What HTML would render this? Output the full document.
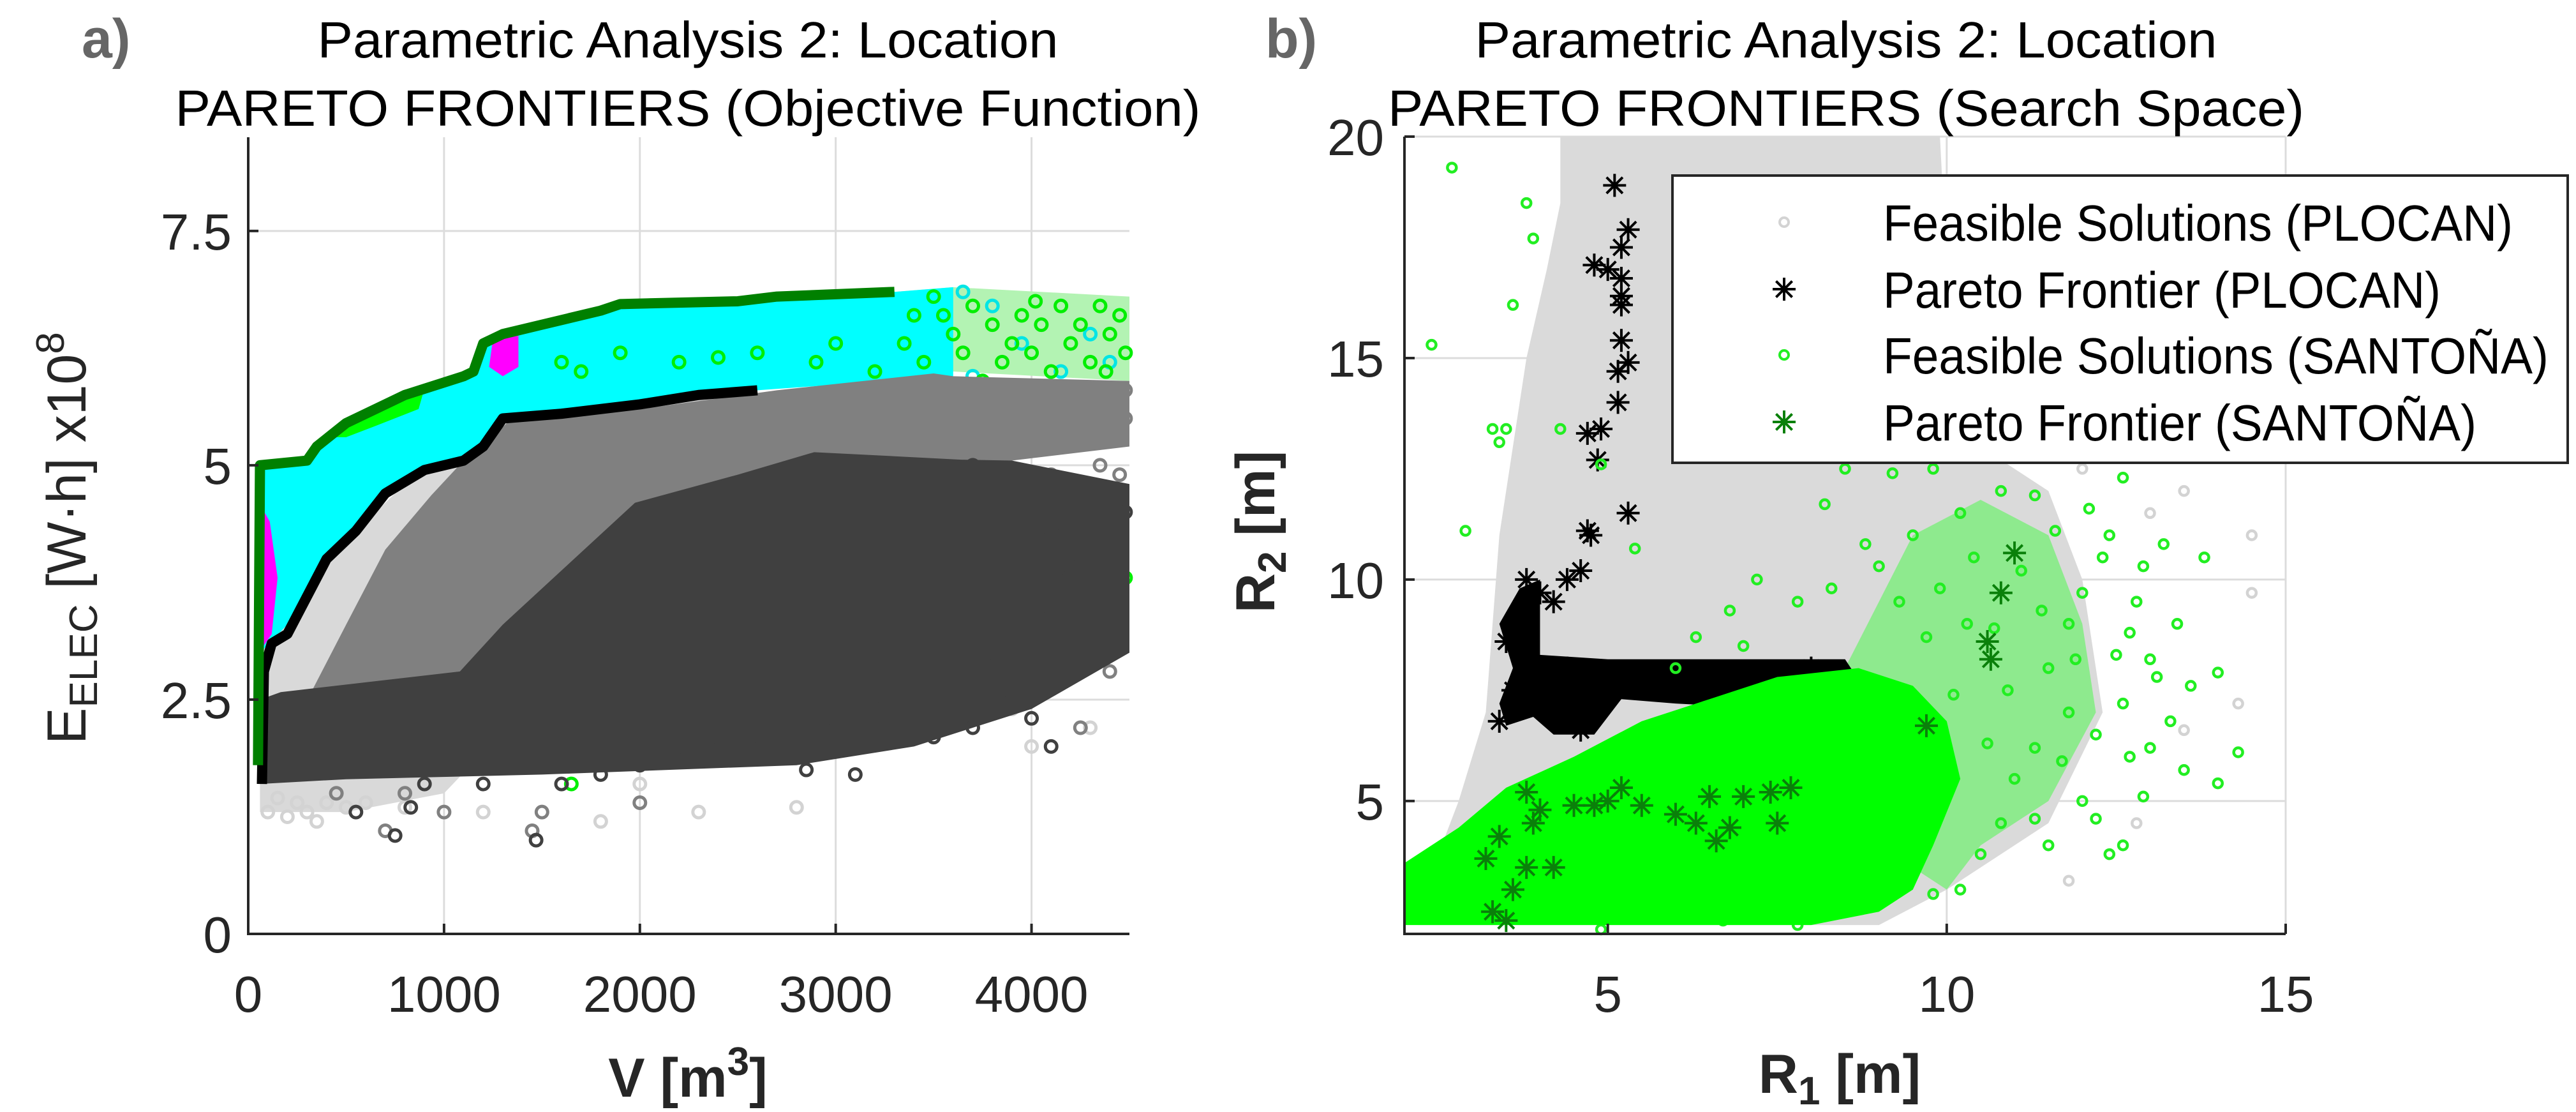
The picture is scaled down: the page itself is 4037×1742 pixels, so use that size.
<!DOCTYPE html>
<html><head><meta charset="utf-8"><style>
html,body{margin:0;padding:0;background:#fff;}
svg{display:block;font-family:"Liberation Sans",Arial,sans-serif;}
</style></head><body>
<svg id="fig" width="4037" height="1742" viewBox="0 0 4037 1742" xmlns="http://www.w3.org/2000/svg">
<rect width="4037" height="1742" fill="#fff"/>
<g id="left"></g>
<g id="right"></g>
</svg>
<script>
// ---------- LEFT CHART DATA (V [m3], E x1e8) ----------
const leftXTicks=[0,1000,2000,3000,4000];
const leftYTicks=[0,2.5,5,7.5];
const leftYTickLabels=["0","2.5","5","7.5"];
const greenFrontier=[[50,1.8],[60,5.0],[300,5.05],[350,5.2],[500,5.45],[800,5.75],[1100,5.95],[1150,6.0],[1200,6.3],[1300,6.4],[1500,6.5],[1800,6.65],[1900,6.72],[2500,6.75],[2700,6.8],[3300,6.85]];
const blackFrontier=[[70,1.6],[80,2.8],[120,3.1],[200,3.2],[250,3.4],[400,4.0],[550,4.3],[700,4.7],[900,4.95],[1100,5.05],[1200,5.2],[1300,5.5],[1600,5.55],[2000,5.65],[2300,5.75],[2600,5.8]];
const cyanRegionTail=[[3600,6.9],[3600,5.95],[2600,5.8]];
const greenSparseRegion=[[3300,6.0],[3300,6.85],[3600,6.9],[4500,6.8],[4500,5.9],[3600,6.0]];
const lightGrayRegion=[[60,1.3],[60,3.0],[200,3.3],[500,4.2],[800,4.8],[1100,5.1],[1300,5.4],[2600,5.8],[2600,5.0],[1000,1.5],[500,1.3]];
const midGrayRegion=[[312,2.54],[500,3.3],[700,4.1],[935,4.68],[1100,5.05],[1250,5.3],[1320,5.45],[2000,5.6],[2700,5.8],[3500,5.98],[3600,5.95],[4500,5.9],[4500,5.2],[3700,5.0],[3000,4.0],[2000,2.6],[1000,2.6]];
const darkGrayRegion=[[60,1.6],[60,2.5],[166,2.58],[1081,2.8],[1300,3.3],[1975,4.6],[2500,4.9],[2890,5.14],[3640,5.06],[3900,5.05],[4500,4.8],[4500,3.0],[4000,2.4],[3400,2.0],[2800,1.8],[1500,1.7],[500,1.65]];
const lightGreenBlob=[[400,5.3],[550,5.45],[700,5.65],[900,5.82],[870,5.6],[650,5.42],[500,5.3]];
const magentaBlob1=[[55,3.0],[55,4.6],[110,4.4],[150,3.8],[120,3.2]];
const magentaBlob2=[[1230,6.05],[1250,6.35],[1380,6.38],[1380,6.05],[1300,5.95]];
const greenL=[[3400,6.6],[3500,6.8],[3600,6.4],[3650,6.2],[3700,6.7],[3800,6.5],[3850,6.1],[3900,6.3],[3950,6.6],[4000,6.2],[4050,6.5],[4100,6.0],[4150,6.7],[4200,6.3],[4250,6.5],[4300,6.1],[4350,6.7],[4400,6.4],[4450,6.6],[4480,6.2],[3750,5.9],[4100,5.7],[4300,5.8],[3900,4.6],[4200,4.5],[4100,4.2],[4450,4.0],[4350,3.6],[4000,3.3],[4250,3.0],[4000,2.5],[4480,3.8],[1600,6.1],[1700,6.0],[1900,6.2],[2200,6.1],[2400,6.15],[2600,6.2],[2900,6.1],[3000,6.3],[3200,6.0],[1650,1.6],[3350,6.3],[3450,6.1],[3550,6.6],[4020,6.75],[4380,6.0]];
const cyanL=[[3650,6.85],[3800,6.7],[3950,6.3],[4150,6.0],[4300,6.4],[4400,6.1],[3700,5.95]];
const grayL=[[3600,5.8],[3800,5.6],[4000,5.5],[4200,5.7],[4400,5.6],[4480,5.8],[3900,5.2],[4300,5.3],[4450,4.9],[4100,4.9],[3950,3.2],[4200,2.9],[4400,2.8],[3300,2.2],[3500,2.3],[3700,2.5],[4250,2.2],[800,1.5],[700,1.1],[1000,1.3],[1450,1.1],[2000,1.4],[1500,1.3],[450,1.5],[4480,5.5],[4350,5.0]];
const lightL=[[100,1.3],[200,1.25],[300,1.3],[400,1.4],[500,1.35],[600,1.4],[800,1.35],[1200,1.3],[1800,1.2],[2300,1.3],[2800,1.35],[4000,2.0],[4300,2.2],[4450,3.5],[3900,2.4],[2000,1.6],[150,1.45],[350,1.2],[250,1.4]];
const darkL=[[3700,5.0],[3800,4.8],[3900,4.5],[4000,4.7],[4100,4.3],[4200,4.6],[4300,4.2],[4400,4.7],[4480,4.5],[3950,4.0],[4150,3.8],[4300,3.9],[4450,3.3],[4350,3.2],[4050,3.5],[4250,3.4],[3800,3.0],[3600,2.7],[3400,2.6],[3200,2.4],[3000,2.2],[2800,1.9],[2600,2.0],[2400,2.1],[2200,2.0],[2000,1.8],[1800,1.7],[1600,1.6],[1200,1.6],[900,1.6],[3500,2.1],[3700,2.2],[4100,2.0],[4000,2.3],[3850,2.6],[4450,4.1],[4200,4.05],[2350,1.95],[3100,1.7],[2850,1.75],[830,1.35],[550,1.3],[750,1.05],[1470,1.0]];

// ---------- RIGHT CHART DATA (R1 [m], R2 [m]) ----------
const rightXTicks=[5,10,15];
const rightYTicks=[5,10,15,20];
const grayRegionR=[[2.2,2.2],[2.3,3],[2.8,5],[3.2,7],[3.3,9],[3.4,11],[3.6,13],[3.8,15],[4.1,17],[4.3,18.5],[4.3,20],[9.9,20],[10,17],[10.5,13],[11.5,12],[12,10],[12.3,7],[11.5,4.5],[10,3],[9,2.2]];
const greenSparseRegionR=[[8.5,8],[9,9.5],[9.5,11],[10.5,11.8],[11.5,11],[12,9],[12.2,7],[11.5,5],[10.5,4],[10,3],[9.5,3.5]];
const greenDenseR=[[2,2.2],[2,3.6],[2.8,4.4],[3.5,5.3],[4.5,6],[5.5,6.8],[6.5,7.3],[7.5,7.8],[8.7,8],[9.5,7.6],[10,6.8],[10.2,5.5],[9.8,4],[9.5,3],[9,2.5],[8,2.2]];
const blackBlobR=[[3.5,6.7],[3.4,7.2],[3.6,8],[3.4,9],[3.7,9.8],[4.0,10],[4.0,8.3],[5,8.2],[6.5,8.2],[8.5,8.2],[8.8,7.5],[8.5,7.0],[6,7.2],[5.2,7.3],[4.8,6.5],[4.2,6.5],[3.9,6.9]];
const blackStarsR=[[5.1,18.9],[5.3,17.9],[5.2,17.5],[4.8,17.1],[5.0,17.0],[5.2,16.8],[5.2,16.4],[5.2,16.2],[5.2,15.4],[5.3,14.9],[5.15,14.7],[5.15,14.0],[4.7,13.3],[4.9,13.4],[4.85,12.7],[5.3,11.5],[4.75,11.0],[4.7,11.1],[4.4,10.0],[4.6,10.2],[4.2,9.5],[3.8,10.0],[4.0,9.7],[3.4,6.8],[3.6,7.5],[4.4,8.0],[5.5,7.9],[6.2,7.8],[7.2,7.8],[8.0,8.0],[8.6,7.6],[4.6,6.6],[3.5,8.6]];
const greenStarsR=[[3.3,2.5],[3.5,2.3],[3.6,3.0],[3.4,4.2],[3.8,3.5],[3.9,4.5],[3.8,5.2],[4.0,4.8],[4.5,4.9],[4.8,4.9],[5.0,5.0],[5.2,5.3],[5.5,4.9],[6.0,4.7],[6.3,4.5],[6.5,5.1],[6.6,4.1],[6.8,4.4],[7.0,5.1],[7.4,5.2],[7.7,5.3],[7.5,4.5],[9.7,6.7],[10.6,8.6],[10.65,8.2],[10.8,9.7],[11.0,10.6],[4.2,3.5],[3.2,3.7]];
const grayScatterR=[[13.5,12],[14.5,11],[14.5,9.7],[13,11.5],[12.8,4.5],[12,12.5],[11,13.5],[14.3,7.2],[13.5,6.6],[11.8,3.2]];
const greenScatterR=[[2.7,19.3],[2.4,15.3],[3.8,18.5],[3.9,17.7],[3.6,16.2],[2.9,11.1],[3.3,13.4],[3.5,13.4],[3.4,13.1],[4.3,13.4],[4.9,12.6],[5.4,10.7],[8.2,11.7],[8.5,12.5],[9.2,12.4],[9.5,11],[9.8,12.5],[10.2,11.5],[10.8,12],[11.3,11.9],[11.6,11.1],[12.1,11.6],[12.6,12.3],[12.3,10.5],[12.8,9.5],[13.2,10.8],[13.8,10.5],[11.8,9],[12.5,8.3],[13.1,7.8],[13.6,7.6],[14.0,7.9],[14.3,6.1],[14.0,5.4],[13.5,5.7],[13.0,6.2],[12.7,6.0],[12.2,6.5],[11.8,7.0],[11.3,6.2],[11.0,5.5],[10.8,4.5],[11.5,4.0],[12.4,3.8],[12.6,4.0],[10.5,3.8],[10.2,3.0],[9.8,2.9],[10.9,7.5],[11.5,8.0],[10.3,9.0],[9.3,9.5],[9.0,10.3],[8.3,9.8],[8.8,10.8],[7.8,9.5],[7.2,10.0],[6.8,9.3],[6.3,8.7],[6.0,8.0],[7.0,8.5],[9.7,8.7],[11.1,10.2],[12.0,9.7],[13.0,8.2],[12.0,5.0],[11.3,4.6],[9.1,3.5],[8.6,2.7],[7.8,2.2],[6.7,2.3],[5.8,2.4],[4.9,2.1],[10.4,10.5],[9.9,9.8],[10.7,8.9],[11.4,9.3],[10.1,7.4],[11.7,5.9],[12.9,5.1],[10.6,6.3],[12.4,11.0],[12.9,10.3],[13.4,9.0],[12.6,7.2],[13.3,6.8],[12.2,4.6],[11.9,8.2],[12.7,8.8]];
const legendLabels=["Feasible Solutions (PLOCAN)","Pareto Frontier (PLOCAN)","Feasible Solutions (SANTOÑA)","Pareto Frontier (SANTOÑA)"];

const NS="http://www.w3.org/2000/svg";
function mk(parent,tag,attrs){const e=document.createElementNS(NS,tag);for(const k in attrs)e.setAttribute(k,attrs[k]);parent.appendChild(e);return e;}

const LX=v=>389+v*(1381/4500);
const LY=e=>1463-e*(1248/8.5);
const RX=r=>2201+(r-2)*(1381/13);
const RY=r=>1463-(r-2)*(1249/18);

const L=document.getElementById('left');
const R=document.getElementById('right');

function poly(g,pts,fx,fy,fill,name){const p=mk(g,'polygon',{points:pts.map(q=>fx(q[0])+','+fy(q[1])).join(' '),fill:fill});

return p;}
function line(g,pts,fx,fy,stroke,w,name){const p=mk(g,'polyline',{points:pts.map(q=>fx(q[0])+','+fy(q[1])).join(' '),fill:'none',stroke:stroke,'stroke-width':w,'stroke-linejoin':'round'});

return p;}
function circles(g,pts,fx,fy,color,r,w,name){const gg=mk(g,'g',{});


pts.forEach(q=>mk(gg,'circle',{cx:fx(q[0]),cy:fy(q[1]),r:r,fill:'none',stroke:color,'stroke-width':w}));}
function star(g,x,y,s,color,w){const d=`M${x-s},${y}L${x+s},${y}M${x},${y-s}L${x},${y+s}M${x-s*0.7},${y-s*0.7}L${x+s*0.7},${y+s*0.7}M${x-s*0.7},${y+s*0.7}L${x+s*0.7},${y-s*0.7}`;
return mk(g,'path',{d:d,stroke:color,'stroke-width':w,fill:'none'});}
function stars(g,pts,fx,fy,color,s,w,name){const gg=mk(g,'g',{});


pts.forEach(q=>star(gg,fx(q[0]),fy(q[1]),s,color,w));}
function text(g,x,y,str,attrs,name){const t=mk(g,'text',Object.assign({x:x,y:y,fill:'#262626','font-size':80},attrs));t.textContent=str;

return t;}

// ---------------- LEFT ----------------
leftXTicks.slice(1).forEach(v=>{const l=mk(L,'line',{x1:LX(v),x2:LX(v),y1:LY(8.5),y2:LY(0),stroke:'#dcdcdc','stroke-width':3});

});
leftYTicks.slice(1).forEach(v=>{const l=mk(L,'line',{x1:LX(0),x2:LX(4500),y1:LY(v),y2:LY(v),stroke:'#dcdcdc','stroke-width':3});

});
poly(L,greenSparseRegion,LX,LY,'#b3f3b3','green-sparse-region');
poly(L,greenFrontier.concat(cyanRegionTail).concat(blackFrontier.slice().reverse()),LX,LY,'#00ffff','cyan-region');
poly(L,lightGrayRegion,LX,LY,'#d9d9d9','light-gray-region');
circles(L,lightL,LX,LY,'#d3d3d3',9,5,'light-gray-points');
circles(L,cyanL,LX,LY,'#00e5e5',9,5,'cyan-points');
circles(L,greenL,LX,LY,'#00ee00',9,5,'green-points');
poly(L,midGrayRegion,LX,LY,'#808080','mid-gray-region');
circles(L,grayL,LX,LY,'#808080',9,5,'mid-gray-points');
poly(L,darkGrayRegion,LX,LY,'#404040','dark-gray-region');
circles(L,darkL,LX,LY,'#404040',9,5,'dark-gray-points');
poly(L,lightGreenBlob,LX,LY,'#00ff00','light-green-blob');
poly(L,magentaBlob1,LX,LY,'#ff00ff','magenta-blob');
poly(L,magentaBlob2,LX,LY,'#ff00ff','magenta-blob-2');
line(L,blackFrontier,LX,LY,'#000',16,'black-pareto-frontier');
line(L,greenFrontier,LX,LY,'#008000',16,'green-pareto-frontier');
mk(L,'path',{d:`M${LX(0)},${LY(8.5)}V${LY(0)}H${LX(4500)}`,stroke:'#262626','stroke-width':4,fill:'none'});
leftXTicks.forEach(v=>{mk(L,'line',{x1:LX(v),x2:LX(v),y1:LY(0),y2:LY(0)-16,stroke:'#262626','stroke-width':4});
text(L,LX(v),1585,String(v),{'text-anchor':'middle'},'x-tick-label');});
leftYTicks.forEach((v,i)=>{mk(L,'line',{x1:LX(0),x2:LX(0)+16,y1:LY(v),y2:LY(v),stroke:'#262626','stroke-width':4});
text(L,363,LY(v)+29,leftYTickLabels[i],{'text-anchor':'end'},'y-tick-label');});
text(L,1078,90,'Parametric Analysis 2: Location',{'text-anchor':'middle',fill:'#000',textLength:1161,lengthAdjust:'spacingAndGlyphs'},'chart-title-line-1');
text(L,1078,197,'PARETO FRONTIERS (Objective Function)',{'text-anchor':'middle',fill:'#000',textLength:1607,lengthAdjust:'spacingAndGlyphs'},'chart-title-line-2');
text(L,128,90,'a)',{fill:'#666','font-weight':'bold','font-size':86},'panel-label-a');
{const t=text(L,0,0,'',{fill:'#262626','font-size':86,transform:'translate(134,843) rotate(-90)','text-anchor':'middle'},'y-axis-title');
t.innerHTML='E<tspan font-size="62" dy="18">ELEC</tspan><tspan dy="-18"> [W·h] x10</tspan><tspan font-size="62" dy="-34">8</tspan>';}
{const t=text(L,1078,1718,'',{fill:'#262626','font-size':86,'font-weight':'bold','text-anchor':'middle'},'x-axis-title');
t.innerHTML='V [m<tspan font-size="62" dy="-34">3</tspan><tspan dy="34">]</tspan>';}

// ---------------- RIGHT ----------------
rightXTicks.forEach(v=>{const l=mk(R,'line',{x1:RX(v),x2:RX(v),y1:RY(20),y2:RY(2),stroke:'#dcdcdc','stroke-width':3});

});
rightYTicks.forEach(v=>{const l=mk(R,'line',{x1:RX(2),x2:RX(15),y1:RY(v),y2:RY(v),stroke:'#dcdcdc','stroke-width':3});

});
poly(R,grayRegionR,RX,RY,'#dadada','plocan-feasible-region');
circles(R,grayScatterR,RX,RY,'#d3d3d3',7,4.5,'plocan-feasible-points');
poly(R,greenSparseRegionR,RX,RY,'#8eea8e','santona-sparse-region');
poly(R,blackBlobR,RX,RY,'#000','plocan-pareto-cluster');
stars(R,blackStarsR,RX,RY,'#000',18,4,'plocan-pareto-stars');
circles(R,greenScatterR,RX,RY,'#22ee22',7,4.5,'santona-feasible-points');
poly(R,greenDenseR,RX,RY,'#00ff00','santona-feasible-region');
stars(R,greenStarsR,RX,RY,'#0a800a',18,4,'santona-pareto-stars');
mk(R,'path',{d:`M${RX(2)},${RY(20)}V${RY(2)}H${RX(15)}`,stroke:'#262626','stroke-width':4,fill:'none'});
rightXTicks.forEach(v=>{mk(R,'line',{x1:RX(v),x2:RX(v),y1:RY(2),y2:RY(2)-16,stroke:'#262626','stroke-width':4});
text(R,RX(v),1585,String(v),{'text-anchor':'middle'},'x-tick-label');});
rightYTicks.forEach(v=>{mk(R,'line',{x1:RX(2),x2:RX(2)+16,y1:RY(v),y2:RY(v),stroke:'#262626','stroke-width':4});
text(R,2169,RY(v)+29,String(v),{'text-anchor':'end'},'y-tick-label');});
text(R,2893,90,'Parametric Analysis 2: Location',{'text-anchor':'middle',fill:'#000',textLength:1163,lengthAdjust:'spacingAndGlyphs'},'chart-title-line-1');
text(R,2893,197,'PARETO FRONTIERS (Search Space)',{'text-anchor':'middle',fill:'#000',textLength:1436,lengthAdjust:'spacingAndGlyphs'},'chart-title-line-2');
text(R,1983,90,'b)',{fill:'#666','font-weight':'bold','font-size':86},'panel-label-b');
{const t=text(R,0,0,'',{fill:'#262626','font-size':86,'font-weight':'bold',transform:'translate(1997,833) rotate(-90)','text-anchor':'middle'},'y-axis-title');
t.innerHTML='R<tspan font-size="62" dy="18">2</tspan><tspan dy="-18"> [m]</tspan>';}
{const t=text(R,2883,1712,'',{fill:'#262626','font-size':86,'font-weight':'bold','text-anchor':'middle'},'x-axis-title');
t.innerHTML='R<tspan font-size="62" dy="18">1</tspan><tspan dy="-18"> [m]</tspan>';}
const lg=mk(R,'g',{});


mk(lg,'rect',{x:2621,y:275,width:1403,height:450,fill:'#fff',stroke:'#262626','stroke-width':4});
const legY=[348,453,556,661];
const legW=[987,874,1043,930];
legendLabels.forEach((s,i)=>{
  const e=mk(lg,'g',{});
  
  
  if(i===0) mk(e,'circle',{cx:2796,cy:legY[i],r:7,fill:'none',stroke:'#d3d3d3','stroke-width':4});
  if(i===2) mk(e,'circle',{cx:2796,cy:legY[i],r:7,fill:'none',stroke:'#22ee22','stroke-width':4});
  if(i===1) star(e,2796,legY[i],18,'#000',4);
  if(i===3) star(e,2796,legY[i],18,'#0a800a',4);
  const t=mk(e,'text',{x:2951,y:legY[i]+29,'font-size':80,fill:'#000',textLength:legW[i],lengthAdjust:'spacingAndGlyphs'});t.textContent=s;
});
</script>
</body></html>
